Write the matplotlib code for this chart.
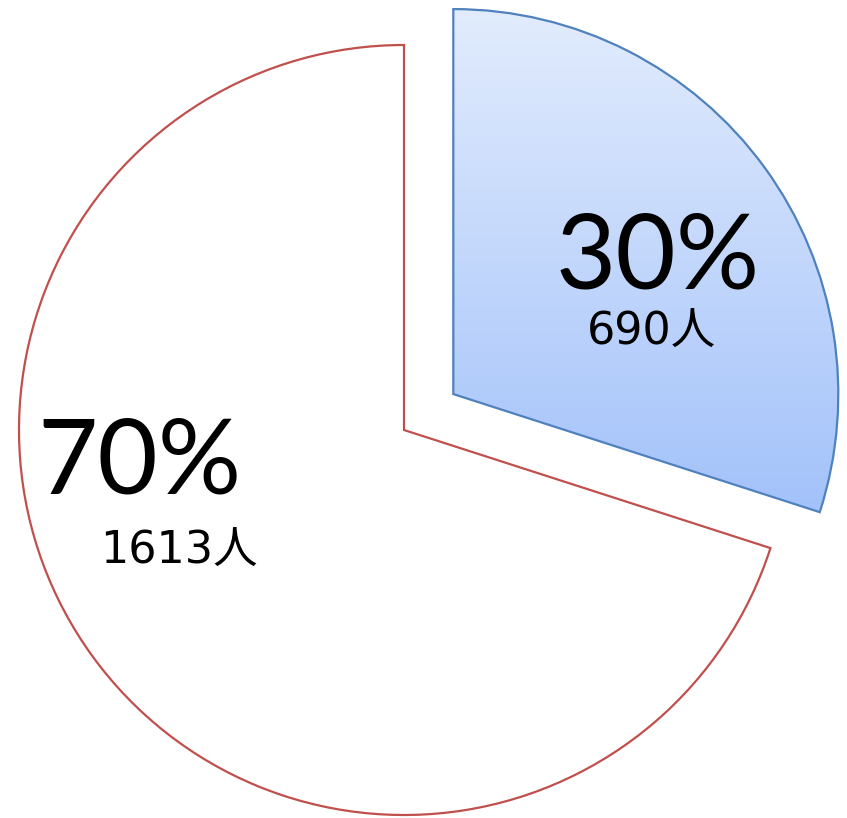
import numpy as np
import matplotlib.pyplot as plt
from matplotlib.colors import LinearSegmentedColormap

# data
labels_pct = ['30%', '70%']
labels_cnt = ['690人', '1613人']
values = [690, 1613]

big_font = ['Lato', 'Noto Sans CJK JP']
small_font = ['DejaVu Sans', 'Noto Sans CJK JP']

fig = plt.figure(figsize=(8.47, 8.18), dpi=100)
ax = fig.add_axes([0, 0, 1, 1])

# explode is in data units here (pixels)
wedges, _ = ax.pie(values, explode=[61, 0], startangle=90, counterclock=False,
                   center=(404, 388), radius=385, colors=['none', 'white'],
                   wedgeprops=dict(linewidth=1.6), frame=True)
wedges[0].set_edgecolor('#4f81bd')
wedges[1].set_edgecolor('#c0504d')

# vertical gradient for the highlighted slice
bb = wedges[0].get_path().get_extents()
grad = np.linspace(0, 1, 256).reshape(-1, 1)
cmap = LinearSegmentedColormap.from_list('g', ['#a3c2fa', '#e2ecfd'])
img = ax.imshow(grad, extent=(bb.x0, bb.x1, bb.y0, bb.y1), origin='lower',
                cmap=cmap, aspect='auto', zorder=0)
img.set_clip_path(wedges[0])

ax.set_xlim(0, 847)
ax.set_ylim(0, 818)
ax.set_aspect('equal')
ax.axis('off')

# labels
ax.text(658, 559, labels_pct[0], fontsize=75, family=big_font, ha='center', va='center')
ax.text(652, 486, labels_cnt[0], fontsize=32, family=small_font, ha='center', va='center')
ax.text(139, 354, labels_pct[1], fontsize=75, family=big_font, ha='center', va='center')
ax.text(179, 267, labels_cnt[1], fontsize=32, family=small_font, ha='center', va='center')

fig.savefig('out.png', dpi=100)
